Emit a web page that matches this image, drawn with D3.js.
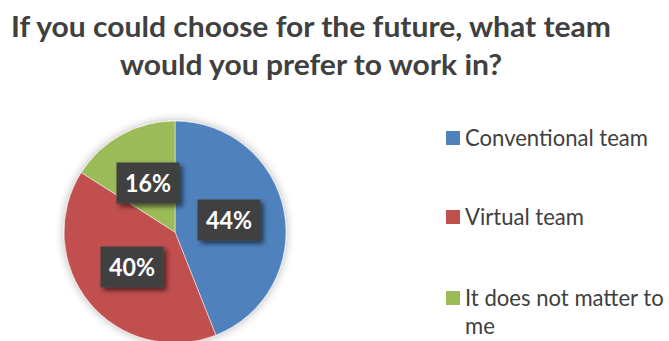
<!DOCTYPE html>
<html>
<head>
<meta charset="utf-8">
<script src="https://cdn.jsdelivr.net/npm/d3@7/dist/d3.min.js"></script>
<style>
  html, body { margin: 0; padding: 0; background: #fff; }
  svg { display: block; }
</style>
</head>
<body>
<svg id="chart" width="669" height="341"></svg>
<script>
// Survey answers
const categories = ["Conventional team", "Virtual team", "It does not matter to me"];
const shares = [44, 40, 16];
const colors = ["#4F81BD", "#C0504D", "#9BBB59"];
const titleLines = ["If you could choose for the future, what team", "would you prefer to work in?"];
const legendLines = [["Conventional team"], ["Virtual team"], ["It does not matter to", "me"]];

const svg = d3.select("#chart");
const FONT = "Lato, 'Open Sans', sans-serif";

const defs = svg.append("defs");
// soft halo around the pie
const halo = defs.append("filter").attr("id", "halo")
  .attr("x", "-20%").attr("y", "-20%").attr("width", "140%").attr("height", "140%");
halo.append("feGaussianBlur").attr("in", "SourceAlpha").attr("stdDeviation", 5).attr("result", "b");
halo.append("feComponentTransfer").attr("in", "b").attr("result", "b2")
  .append("feFuncA").attr("type", "linear").attr("slope", 0.3);
const hm = halo.append("feMerge");
hm.append("feMergeNode").attr("in", "b2");
hm.append("feMergeNode").attr("in", "SourceGraphic");

// drop shadow for the value boxes
const drop = defs.append("filter").attr("id", "drop")
  .attr("x", "-30%").attr("y", "-30%").attr("width", "170%").attr("height", "170%");
drop.append("feGaussianBlur").attr("in", "SourceAlpha").attr("stdDeviation", 2.5).attr("result", "b");
drop.append("feOffset").attr("in", "b").attr("dx", 3).attr("dy", 3).attr("result", "o");
drop.append("feComponentTransfer").attr("in", "o").attr("result", "o2")
  .append("feFuncA").attr("type", "linear").attr("slope", 0.6);
const dm = drop.append("feMerge");
dm.append("feMergeNode").attr("in", "o2");
dm.append("feMergeNode").attr("in", "SourceGraphic");

// Draws text squeezed horizontally by factor k, anchored at (x, y)
function narrowText(parent, x, y, str, size, weight, k, anchor) {
  const t = parent.append("text")
    .attr("transform", `translate(${x},${y}) scale(${k},1)`)
    .attr("font-size", size).attr("font-weight", weight)
    .attr("text-anchor", anchor).text(str);
  return t;
}
function measure(str, size, weight) {
  const t = svg.append("text").attr("font-family", FONT).attr("font-size", size)
    .attr("font-weight", weight).text(str);
  const w = t.node().getComputedTextLength();
  t.remove();
  return w;
}

// Title
const title = svg.append("g").attr("font-family", FONT).attr("fill", "#404040");
const titleSize = 29;
const kTitle = 600 / measure(titleLines[0], titleSize, 700);
titleLines.forEach((t, i) => {
  narrowText(title, 311, 37 + i * 38, t, titleSize, 700, kTitle, "middle");
});

// Pie
const cx = 175, cy = 232, r = 111;
const pie = d3.pie().sort(null).value(d => d)(shares);
const arc = d3.arc().innerRadius(0).outerRadius(r);

const g = svg.append("g").attr("transform", `translate(${cx},${cy})`);
const slices = g.append("g").attr("filter", "url(#halo)");
slices.selectAll("path").data(pie).join("path")
  .attr("d", arc)
  .attr("fill", (d, i) => colors[i])
  .attr("stroke", "#fff").attr("stroke-width", 0.5);

// value labels in dark boxes
const labelPos = [[54, -12], [-43, 35], [-27, -49]];
const boxW = 63, boxH = 41;
const labelSize = 24;
const kLabel = 46 / measure("44%", labelSize, 700);
const labels = g.append("g").attr("font-family", FONT).attr("fill", "#fff");
pie.forEach((d, i) => {
  const [lx, ly] = labelPos[i];
  const lg = labels.append("g").attr("transform", `translate(${lx},${ly})`);
  lg.append("rect").attr("x", -boxW / 2).attr("y", -boxH / 2)
    .attr("width", boxW).attr("height", boxH)
    .attr("fill", "#404040").attr("filter", "url(#drop)");
  narrowText(lg, 0, 8.5, d.data + "%", labelSize, 700, kLabel, "middle");
});

// Legend
const legend = svg.append("g").attr("font-family", FONT).attr("fill", "#404040");
const legendSize = 23.5;
const kLegend = 183 / measure(legendLines[0][0], legendSize, 400);
const legendY = [138, 217, 298];
legendLines.forEach((lines, i) => {
  const y = legendY[i];
  legend.append("rect").attr("x", 446).attr("y", y - 7).attr("width", 14).attr("height", 14)
    .attr("fill", colors[i]);
  lines.forEach((t, j) => {
    narrowText(legend, 465, y + 8 + j * 28, t, legendSize, 400, kLegend, "start");
  });
});
</script>
</body>
</html>
